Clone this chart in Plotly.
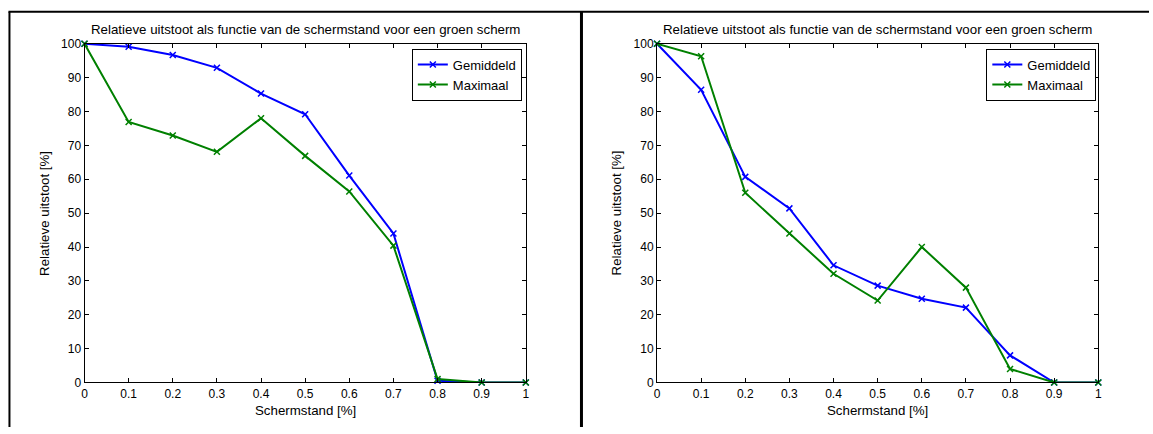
import plotly.graph_objects as go

W, H = 1153, 434

schermstand = [0, 0.1, 0.2, 0.3, 0.4, 0.5, 0.6, 0.7, 0.8, 0.9, 1.0]

links_gemiddeld = [100, 99.1, 96.7, 92.9, 85.3, 79.2, 61.1, 44.0, 0.5, 0, 0]
links_maximaal = [100, 76.9, 72.9, 68.1, 78.0, 66.9, 56.4, 40.4, 1.0, 0, 0]

rechts_gemiddeld = [100, 86.4, 60.7, 51.4, 34.6, 28.6, 24.7, 22.1, 8.0, 0, 0]
rechts_maximaal = [100, 96.3, 56.0, 44.0, 32.1, 24.2, 40.0, 28.0, 4.0, 0, 0]

x_ticks = [0, 0.1, 0.2, 0.3, 0.4, 0.5, 0.6, 0.7, 0.8, 0.9, 1]
x_ticklabels = ["0", "0.1", "0.2", "0.3", "0.4", "0.5", "0.6", "0.7", "0.8", "0.9", "1"]
y_ticks = [0, 10, 20, 30, 40, 50, 60, 70, 80, 90, 100]

titel = "Relatieve uitstoot als functie van de schermstand voor een groen scherm"
x_label = "Schermstand [%]"
y_label = "Relatieve uitstoot [%]"
namen = ["Gemiddeld", "Maximaal"]
kleuren = ["#0000ff", "#008000"]

FONT = "Liberation Sans, Arial, sans-serif"

def px(x):
    return x / W

def py(y):
    return 1 - y / H

fig = go.Figure()

panels = [
    ("x", "y", "legend", links_gemiddeld, links_maximaal),
    ("x2", "y2", "legend2", rechts_gemiddeld, rechts_maximaal),
]

for xa, ya, leg, gem, mx in panels:
    for naam, kleur, vals in zip(namen, kleuren, [gem, mx]):
        fig.add_trace(go.Scatter(
            x=schermstand, y=vals, name=naam, mode="lines+markers",
            xaxis=xa, yaxis=ya, legend=leg,
            line=dict(color=kleur, width=2),
            marker=dict(symbol="x-thin-open", size=6, color=kleur,
                        line=dict(color=kleur, width=1.5)),
            cliponaxis=False,
        ))

axis_common = dict(
    showline=True, linecolor="black", linewidth=1, mirror="ticks",
    ticks="inside", ticklen=4, tickwidth=1, tickcolor="black",
    showgrid=False, zeroline=False,
    tickfont=dict(family=FONT, size=12, color="black"),
)

y0p, y1p = py(388), py(38)
fig.update_layout(
    xaxis=dict(domain=[px(82), px(526)], range=[0, 1], tickvals=x_ticks,
               ticktext=x_ticklabels, anchor="y", **axis_common),
    yaxis=dict(domain=[y0p, y1p], range=[0, 100], tickvals=y_ticks,
               anchor="x", **axis_common),
    xaxis2=dict(domain=[px(658), px(1102)], range=[0, 1], tickvals=x_ticks,
                ticktext=x_ticklabels, anchor="y2", **axis_common),
    yaxis2=dict(domain=[y0p, y1p], range=[0, 100], tickvals=y_ticks,
                anchor="x2", **axis_common),
)

legend_common = dict(
    bgcolor="white", bordercolor="black", borderwidth=1,
    font=dict(family=FONT, size=13, color="black"),
    xanchor="right", yanchor="top", y=py(43),
    tracegroupgap=0, itemwidth=30,
)
fig.update_layout(
    legend=dict(x=px(522), **legend_common),
    legend2=dict(x=px(1100), **legend_common),
)

annotations = []
for x0, x1, ylab_x in [(82, 526, 41), (658, 1102, 617)]:
    cx = (x0 + x1) / 2
    annotations.append(dict(text=titel, x=px(cx), y=py(23), xref="paper", yref="paper",
                            showarrow=False, xanchor="center", yanchor="middle",
                            font=dict(family=FONT, size=13.3, color="black")))
    annotations.append(dict(text=x_label, x=px(cx), y=py(417), xref="paper", yref="paper",
                            showarrow=False, xanchor="center", yanchor="middle",
                            font=dict(family=FONT, size=13.3, color="black")))
    annotations.append(dict(text=y_label, x=px(ylab_x), y=py(213), xref="paper", yref="paper",
                            showarrow=False, xanchor="center", yanchor="middle", textangle=-90,
                            font=dict(family=FONT, size=13.3, color="black")))

shapes = [
    dict(type="line", xref="paper", yref="paper", x0=px(6.5), x1=px(6.5), y0=py(5), y1=0,
         line=dict(color="black", width=2)),
    dict(type="line", xref="paper", yref="paper", x0=px(5.5), x1=1, y0=py(5), y1=py(5),
         line=dict(color="black", width=2)),
    dict(type="line", xref="paper", yref="paper", x0=px(582), x1=px(582), y0=py(5), y1=0,
         line=dict(color="black", width=3)),
]

fig.update_layout(
    width=W, height=H, margin=dict(l=0, r=0, t=0, b=0),
    paper_bgcolor="white", plot_bgcolor="white",
    annotations=annotations, shapes=shapes,
    font=dict(family=FONT, size=12, color="black"),
    showlegend=True,
)

fig.write_html("out.html", config={"displayModeBar": False})
